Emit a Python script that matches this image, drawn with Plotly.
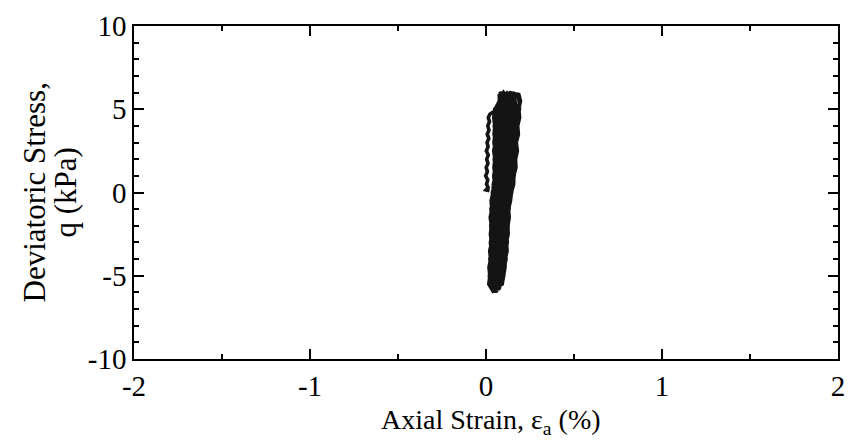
import plotly.graph_objects as go

# Initial monotonic loading from rest up to the first stress peak
init_strain = [0.020, 0.000, 0.012, 0.003, 0.010, -0.002, 0.008, 0.001, 0.011, 0.004,
               0.013, 0.002, 0.012, 0.006, 0.016, 0.007, 0.017, 0.010, 0.020, 0.013,
               0.022, 0.050, 0.120]
init_q = [0.10, 0.15, 0.30, 0.50, 0.75, 1.00, 1.25, 1.50, 1.75, 2.00,
          2.25, 2.50, 2.75, 3.00, 3.25, 3.50, 3.75, 4.00, 4.25, 4.50,
          4.70, 4.90, 5.95]

# Cyclic loading, one list per cycle: peak, unloading to the trough, reloading
cycle_strain = [
    [0.120, 0.185, 0.171, 0.170, 0.162, 0.156, 0.138, 0.127, 0.119, 0.116, 0.104, 0.097,
     0.060, 0.026, 0.028, 0.037, 0.033, 0.036, 0.046, 0.053, 0.057, 0.055, 0.058, 0.056],
    [0.160, 0.170, 0.158, 0.157, 0.150, 0.145, 0.127, 0.116, 0.110, 0.108, 0.095, 0.089,
     0.050, 0.031, 0.040, 0.043, 0.046, 0.044, 0.058, 0.066, 0.069, 0.068, 0.072, 0.070],
    [0.090, 0.157, 0.146, 0.145, 0.138, 0.134, 0.117, 0.106, 0.100, 0.099, 0.087, 0.081,
     0.070, 0.041, 0.045, 0.054, 0.052, 0.056, 0.065, 0.079, 0.079, 0.083, 0.081, 0.086],
    [0.170, 0.142, 0.133, 0.132, 0.126, 0.123, 0.106, 0.096, 0.091, 0.090, 0.078, 0.073,
     0.045, 0.047, 0.057, 0.060, 0.064, 0.063, 0.079, 0.087, 0.093, 0.092, 0.097, 0.098],
    [0.080, 0.128, 0.120, 0.121, 0.114, 0.112, 0.096, 0.087, 0.081, 0.081, 0.070, 0.065,
     0.065, 0.057, 0.061, 0.072, 0.071, 0.077, 0.085, 0.102, 0.102, 0.108, 0.107, 0.114],
    [0.185, 0.196, 0.186, 0.191, 0.180, 0.184, 0.172, 0.178, 0.168, 0.170, 0.158, 0.157,
     0.144, 0.139, 0.128, 0.132, 0.124, 0.126, 0.116, 0.120, 0.109, 0.108, 0.098, 0.092,
     0.035,
     0.016, 0.022, 0.017, 0.026, 0.021, 0.032, 0.025, 0.031, 0.024, 0.033, 0.029, 0.040,
     0.042, 0.052, 0.045, 0.051, 0.044, 0.053, 0.046, 0.050, 0.044, 0.052],
    [0.100, 0.175, 0.168, 0.161, 0.159, 0.147, 0.136, 0.118, 0.117, 0.109, 0.103, 0.090,
     0.075, 0.029, 0.032, 0.040, 0.038, 0.041, 0.049, 0.062, 0.061, 0.064, 0.062, 0.065],
    [0.140, 0.163, 0.152, 0.151, 0.144, 0.139, 0.122, 0.111, 0.105, 0.103, 0.091, 0.085,
     0.055, 0.037, 0.041, 0.049, 0.047, 0.051, 0.060, 0.073, 0.073, 0.076, 0.075, 0.079],
    [0.075, 0.149, 0.139, 0.138, 0.132, 0.128, 0.112, 0.101, 0.095, 0.094, 0.083, 0.077,
     0.060, 0.045, 0.050, 0.058, 0.057, 0.062, 0.070, 0.084, 0.085, 0.089, 0.088, 0.093],
    [0.155, 0.135, 0.127, 0.126, 0.120, 0.117, 0.101, 0.091, 0.086, 0.085, 0.074, 0.069,
     0.050, 0.051, 0.060, 0.065, 0.069, 0.069, 0.083, 0.093, 0.099, 0.099, 0.103, 0.105],
    [0.110, 0.121, 0.114, 0.113, 0.109, 0.106, 0.091, 0.081, 0.077, 0.076, 0.066, 0.061,
     0.045, 0.063, 0.073, 0.078, 0.083, 0.084, 0.099, 0.109, 0.117, 0.118, 0.122, 0.126],
    [0.180, 0.188, 0.190, 0.181, 0.178, 0.176, 0.174, 0.168, 0.166, 0.163, 0.160, 0.150,
     0.146, 0.133, 0.131, 0.122, 0.126, 0.119, 0.121, 0.111, 0.114, 0.103, 0.101, 0.086,
     0.040,
     0.025, 0.019, 0.027, 0.022, 0.030, 0.025, 0.033, 0.027, 0.034, 0.028, 0.038, 0.036,
     0.050, 0.044, 0.053, 0.047, 0.054, 0.045, 0.052, 0.047, 0.055, 0.049,
     0.120],
]
cycle_q = [
    [5.95, 5.0, 4.0, 3.0, 2.0, 1.0, 0.0, -1.0, -2.0, -3.0, -4.0, -5.0,
     -5.90, -5.0, -4.0, -3.0, -2.0, -1.0, 0.0, 1.0, 2.0, 3.0, 4.0, 5.0],
    [6.00, 5.0, 4.0, 3.0, 2.0, 1.0, 0.0, -1.0, -2.0, -3.0, -4.0, -5.0,
     -6.00, -5.0, -4.0, -3.0, -2.0, -1.0, 0.0, 1.0, 2.0, 3.0, 4.0, 5.0],
    [5.90, 5.0, 4.0, 3.0, 2.0, 1.0, 0.0, -1.0, -2.0, -3.0, -4.0, -5.0,
     -5.85, -5.0, -4.0, -3.0, -2.0, -1.0, 0.0, 1.0, 2.0, 3.0, 4.0, 5.0],
    [6.00, 5.0, 4.0, 3.0, 2.0, 1.0, 0.0, -1.0, -2.0, -3.0, -4.0, -5.0,
     -5.95, -5.0, -4.0, -3.0, -2.0, -1.0, 0.0, 1.0, 2.0, 3.0, 4.0, 5.0],
    [6.05, 5.0, 4.0, 3.0, 2.0, 1.0, 0.0, -1.0, -2.0, -3.0, -4.0, -5.0,
     -5.90, -5.0, -4.0, -3.0, -2.0, -1.0, 0.0, 1.0, 2.0, 3.0, 4.0, 5.0],
    [5.95, 5.5, 5.0, 4.5, 4.0, 3.5, 3.0, 2.5, 2.0, 1.5, 1.0, 0.5,
     0.0, -0.5, -1.0, -1.5, -2.0, -2.5, -3.0, -3.5, -4.0, -4.5, -5.0, -5.5,
     -5.85,
     -5.5, -5.0, -4.5, -4.0, -3.5, -3.0, -2.5, -2.0, -1.5, -1.0, -0.5, 0.0,
     0.5, 1.0, 1.5, 2.0, 2.5, 3.0, 3.5, 4.0, 4.5, 5.0],
    [6.00, 5.0, 4.0, 3.0, 2.0, 1.0, 0.0, -1.0, -2.0, -3.0, -4.0, -5.0,
     -5.80, -5.0, -4.0, -3.0, -2.0, -1.0, 0.0, 1.0, 2.0, 3.0, 4.0, 5.0],
    [6.05, 5.0, 4.0, 3.0, 2.0, 1.0, 0.0, -1.0, -2.0, -3.0, -4.0, -5.0,
     -6.00, -5.0, -4.0, -3.0, -2.0, -1.0, 0.0, 1.0, 2.0, 3.0, 4.0, 5.0],
    [5.90, 5.0, 4.0, 3.0, 2.0, 1.0, 0.0, -1.0, -2.0, -3.0, -4.0, -5.0,
     -5.95, -5.0, -4.0, -3.0, -2.0, -1.0, 0.0, 1.0, 2.0, 3.0, 4.0, 5.0],
    [6.00, 5.0, 4.0, 3.0, 2.0, 1.0, 0.0, -1.0, -2.0, -3.0, -4.0, -5.0,
     -5.90, -5.0, -4.0, -3.0, -2.0, -1.0, 0.0, 1.0, 2.0, 3.0, 4.0, 5.0],
    [6.05, 5.0, 4.0, 3.0, 2.0, 1.0, 0.0, -1.0, -2.0, -3.0, -4.0, -5.0,
     -5.85, -5.0, -4.0, -3.0, -2.0, -1.0, 0.0, 1.0, 2.0, 3.0, 4.0, 5.0],
    [5.95, 5.5, 5.0, 4.5, 4.0, 3.5, 3.0, 2.5, 2.0, 1.5, 1.0, 0.5,
     0.0, -0.5, -1.0, -1.5, -2.0, -2.5, -3.0, -3.5, -4.0, -4.5, -5.0, -5.5,
     -5.90,
     -5.5, -5.0, -4.5, -4.0, -3.5, -3.0, -2.5, -2.0, -1.5, -1.0, -0.5, 0.0,
     0.5, 1.0, 1.5, 2.0, 2.5, 3.0, 3.5, 4.0, 4.5, 5.0,
     5.95],
]

x_ticks = [-2, -1, 0, 1, 2]
y_ticks = [-10, -5, 0, 5, 10]

strain = list(init_strain)
stress = list(init_q)
for eps, q in zip(cycle_strain, cycle_q):
    strain.extend(eps)
    stress.extend(q)

FONT = "Liberation Serif"
TICK_FS = 29
TITLE_FS = 28
YTITLE_FS = 31

fig = go.Figure()
fig.add_trace(go.Scatter(
    x=strain, y=stress, mode="lines",
    line=dict(color="#141414", width=3.6),
    hoverinfo="skip", showlegend=False,
))

axis_common = dict(
    showline=True, linecolor="black", linewidth=1.5, mirror="allticks",
    ticks="inside", ticklen=10, tickwidth=1.5, tickcolor="black",
    showgrid=False, zeroline=False,
    tickfont=dict(family=FONT, size=TICK_FS, color="black"),
)

fig.update_layout(
    width=855, height=440,
    margin=dict(l=134, r=10, t=21, b=81),
    plot_bgcolor="white", paper_bgcolor="white",
    font=dict(family=FONT, color="black", size=TITLE_FS),
    xaxis=dict(
        range=[-2, 2], tickvals=x_ticks, ticktext=[str(v) for v in x_ticks],
        minor=dict(dtick=0.5, ticks="inside", ticklen=5, tickwidth=1.5, tickcolor="black"),
        **axis_common,
    ),
    yaxis=dict(
        range=[-10, 10], tickvals=y_ticks, ticktext=[str(v) for v in y_ticks],
        minor=dict(dtick=1, ticks="inside", ticklen=5, tickwidth=1.5, tickcolor="black"),
        **axis_common,
    ),
    annotations=[
        dict(text="Axial Strain, ε<sub>a</sub> (%)", xref="paper", yref="paper",
             x=0.5, y=0, xshift=5, yshift=-43, xanchor="center", yanchor="top",
             showarrow=False, font=dict(family=FONT, size=TITLE_FS, color="black")),
        dict(text="Deviatoric Stress,", xref="paper", yref="paper",
             x=0, y=0.5, xshift=-100, xanchor="center", yanchor="middle", textangle=-90,
             showarrow=False, font=dict(family=FONT, size=YTITLE_FS, color="black")),
        dict(text="q (kPa)", xref="paper", yref="paper",
             x=0, y=0.5, xshift=-69, xanchor="center", yanchor="middle", textangle=-90,
             showarrow=False, font=dict(family=FONT, size=YTITLE_FS, color="black")),
    ],
)

fig.write_html("out.html")
